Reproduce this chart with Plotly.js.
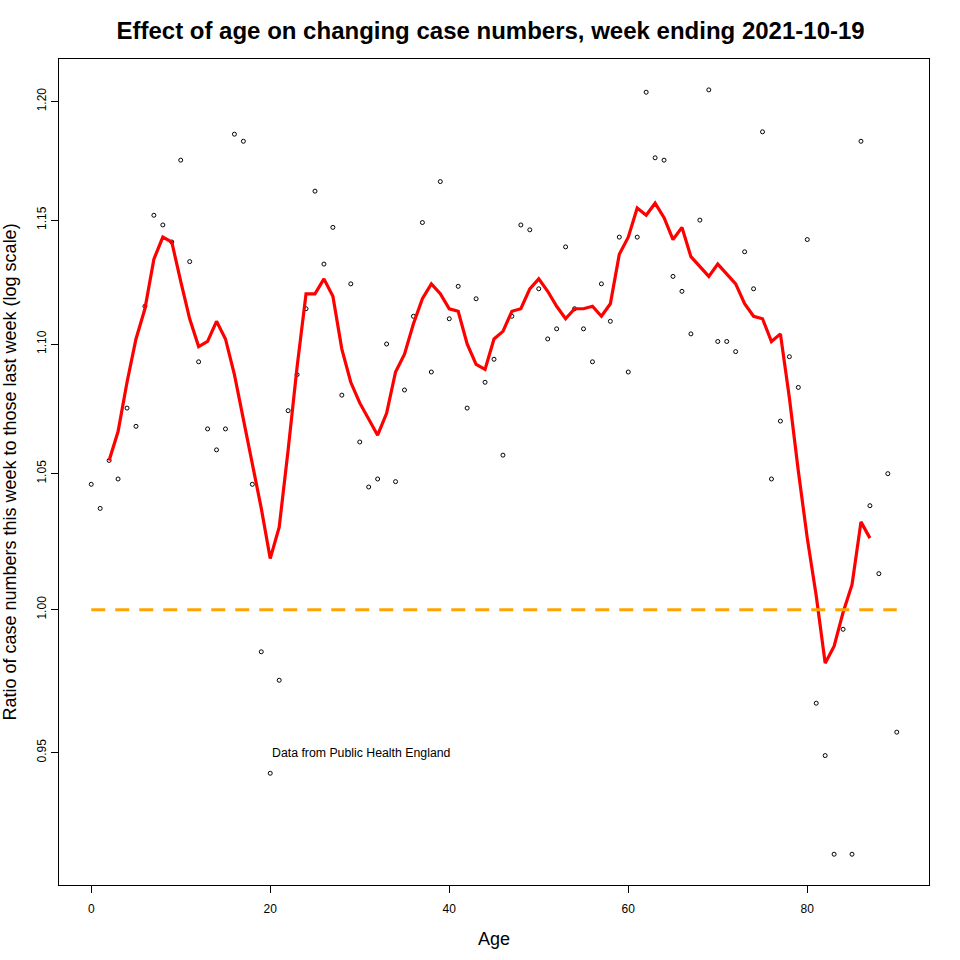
<!DOCTYPE html>
<html>
<head>
<meta charset="utf-8">
<script src="https://cdn.plot.ly/plotly-3.0.1.min.js"></script>
<style>
  html, body { margin: 0; padding: 0; background: #fff; }
  #chart { width: 960px; height: 960px; }
</style>
</head>
<body>
<div id="chart"></div>
<script>
// Ages for the individual points
const ages = [0,1,2,3,4,5,6,7,8,9,10,11,12,13,14,15,16,17,18,19,20,21,22,23,24,25,26,27,28,29,30,
  31,32,33,34,35,36,37,38,39,40,41,42,43,44,45,46,47,48,49,50,51,52,53,54,55,56,57,58,59,60,
  61,62,63,64,65,66,67,68,69,70,71,72,73,74,75,76,77,78,79,80,81,82,83,84,85,86,87,88,89,90];

// Ratio of case numbers this week to last week, per age
const ratios = [1.046,1.037,1.055,1.048,1.075,1.068,1.115,1.152,1.148,1.141,1.175,1.133,1.093,1.067,1.059,1.067,
  1.186,1.183,1.046,0.985,0.943,0.975,1.074,1.088,1.114,1.162,1.132,1.147,1.080,1.124,1.062,
  1.045,1.048,1.100,1.047,1.082,1.111,1.149,1.089,1.166,1.110,1.123,1.075,1.118,1.085,1.094,1.057,
  1.111,1.148,1.146,1.122,1.102,1.106,1.139,1.114,1.106,1.093,1.124,1.109,1.143,1.089,
  1.143,1.204,1.176,1.175,1.127,1.121,1.104,1.150,1.205,1.101,1.101,1.097,1.137,1.122,1.187,
  1.048,1.070,1.095,1.083,1.142,0.967,0.949,0.916,0.993,0.916,1.183,1.038,1.013,1.050,0.957];

// Smoothed trend (red line)
const smoothAges = [2,3,4,5,6,7,8,9,10,11,12,13,14,15,16,17,18,19,20,21,22,23,24,25,26,27,28,29,30,
  31,32,33,34,35,36,37,38,39,40,41,42,43,44,45,46,47,48,49,50,51,52,53,54,55,56,57,58,59,60,
  61,62,63,64,65,66,67,68,69,70,71,72,73,74,75,76,77,78,79,80,81,82,83,84,85,86,87];
const smoothRatios = [1.055,1.066,1.085,1.102,1.114,1.134,1.143,1.141,1.125,1.110,1.099,1.101,1.109,1.102,
  1.088,1.071,1.053,1.037,1.0185,1.030,1.059,1.091,1.120,1.120,1.126,1.119,1.098,1.085,1.077,
  1.071,1.0646,1.073,1.089,1.096,1.108,1.118,1.124,1.120,1.114,1.113,1.100,1.092,1.090,1.102,1.105,
  1.113,1.114,1.122,1.126,1.121,1.115,1.110,1.114,1.114,1.115,1.111,1.116,1.136,1.143,
  1.155,1.152,1.157,1.151,1.142,1.147,1.135,1.131,1.127,1.132,1.128,1.124,1.116,1.111,1.110,
  1.101,1.104,1.079,1.051,1.026,1.005,0.981,0.987,0.999,1.009,1.032,1.026];

// Reference line at ratio 1
const refAges = [0, 90];
const refRatios = [1, 1];

// Axis ticks
const xTicks = [0, 20, 40, 60, 80];
const yTicks = [0.95, 1.00, 1.05, 1.10, 1.15, 1.20];
const yTickLabels = ['0.95', '1.00', '1.05', '1.10', '1.15', '1.20'];

const noteText = 'Data from Public Health England';
const noteAge = 20;
const noteRatio = 0.95;

const FONT = '"Liberation Sans", Arial, sans-serif';

const traces = [
  {
    x: ages, y: ratios, type: 'scatter', mode: 'markers',
    marker: { symbol: 'circle-open', size: 4, color: '#000', line: { width: 1, color: '#000' } },
    hoverinfo: 'x+y'
  },
  {
    x: smoothAges, y: smoothRatios, type: 'scatter', mode: 'lines',
    line: { color: '#ff0000', width: 3.2 }
  },
  {
    x: refAges, y: refRatios, type: 'scatter', mode: 'lines',
    line: { color: '#ffa500', width: 3, dash: '14px,10px' }
  }
];

const layout = {
  width: 960, height: 960,
  margin: { l: 59, r: 31, t: 59, b: 75 },
  paper_bgcolor: '#fff', plot_bgcolor: '#fff',
  showlegend: false,
  font: { family: FONT, color: '#000', size: 12 },
  title: {
    text: '<b>Effect of age on changing case numbers, week ending 2021-10-19</b>',
    font: { family: FONT, size: 24, color: '#000' },
    x: 0.511, xanchor: 'center', xref: 'container',
    y: 1 - 31 / 960, yanchor: 'middle', yref: 'container'
  },
  xaxis: {
    range: [-3.6, 93.6],
    tickmode: 'array', tickvals: xTicks, ticktext: xTicks.map(String),
    ticks: 'outside', ticklen: 7, tickwidth: 1, tickcolor: '#000',
    ticklabelstandoff: 6,
    showline: true, linecolor: '#000', linewidth: 1, mirror: true,
    showgrid: false, zeroline: false,
    tickfont: { family: FONT, size: 12, color: '#000' },
    title: { text: 'Age', font: { family: FONT, size: 18, color: '#000' }, standoff: 16 }
  },
  yaxis: {
    type: 'log',
    range: [-0.0429, 0.0858],
    tickmode: 'array', tickvals: yTicks, ticktext: yTickLabels, tickangle: -90,
    ticks: 'outside', ticklen: 7, tickwidth: 1, tickcolor: '#000',
    showline: true, linecolor: '#000', linewidth: 1, mirror: true,
    showgrid: false, zeroline: false,
    tickfont: { family: FONT, size: 12, color: '#000' },
    title: { text: 'Ratio of case numbers this week to those last week (log scale)',
             font: { family: FONT, size: 18, color: '#000' }, standoff: 14 }
  },
  annotations: [
    {
      text: noteText, x: noteAge, y: Math.log10(noteRatio), xref: 'x', yref: 'y',
      xanchor: 'left', yanchor: 'middle', showarrow: false,
      font: { family: FONT, size: 12.3, color: '#000' }
    }
  ]
};

Plotly.newPlot('chart', traces, layout, { staticPlot: true, displayModeBar: false });
</script>
</body>
</html>
